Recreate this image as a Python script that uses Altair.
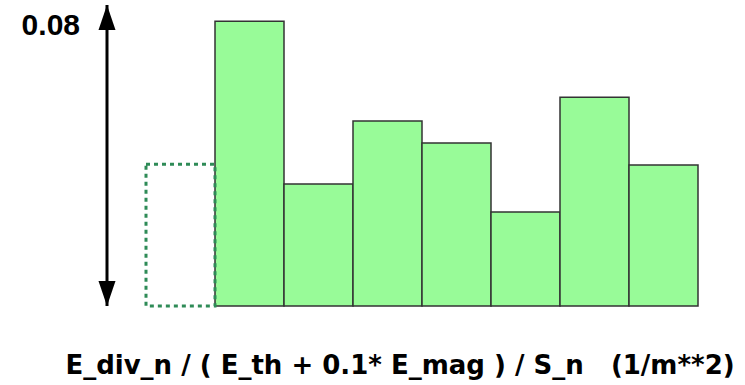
import altair as alt
import pandas as pd

# histogram bins (bin index edges) and heights
bin_start = [1, 2, 3, 4, 5, 6, 7]
bin_end = [2, 3, 4, 5, 6, 7, 8]
values = [0.0757, 0.0324, 0.0492, 0.0433, 0.0250, 0.0555, 0.0375]

# dashed reference bin
ref_start = [0]
ref_end = [1]
ref_value = [0.0377]

scale_max = 0.08
scale_label = "0.08"
x_title = "E_div_n / ( E_th + 0.1* E_mag ) / S_n\u00a0\u00a0 (1/m**2)"

bars = pd.DataFrame({"x": bin_start, "x2": bin_end, "v": values})
ref = pd.DataFrame({"x": ref_start, "x2": ref_end, "v": ref_value})
arrow = pd.DataFrame({"lo": [0.0], "hi": [scale_max]})
heads = pd.DataFrame({"y": [scale_max, 0.0], "dir": ["up", "down"]})
lab = pd.DataFrame({"t": [scale_label], "y": [scale_max]})
ttl = pd.DataFrame({"t": [x_title]})

xs = alt.Scale(domain=[-146 / 69, (745 - 146) / 69], range=[0, 745])
ys = alt.Scale(domain=[0, scale_max], range=[306, 5])

bar_layer = alt.Chart(bars).mark_rect(
    fill="#98FB98", stroke="#333333", strokeWidth=1.5
).encode(
    x=alt.X("x:Q", scale=xs, axis=None),
    x2="x2:Q",
    y=alt.Y("v:Q", scale=ys, axis=None),
    y2=alt.datum(0),
)

ref_layer = alt.Chart(ref).mark_rect(
    fill=None, stroke="#2E8B57", strokeWidth=3, strokeDash=[4, 4]
).encode(
    x=alt.X("x:Q", scale=xs, axis=None),
    x2="x2:Q",
    y=alt.Y("v:Q", scale=ys, axis=None),
    y2=alt.datum(0),
)

rule = alt.Chart(arrow).mark_rule(color="black", strokeWidth=3).encode(
    x=alt.value(107),
    y=alt.Y("lo:Q", scale=ys, axis=None),
    y2="hi:Q",
)

up = alt.Chart(heads[heads.dir == "up"]).mark_point(
    shape="M0,0L0.68,2L-0.68,2Z", filled=True, color="black", opacity=1, size=625
).encode(x=alt.value(107), y=alt.Y("y:Q", scale=ys, axis=None))

down = alt.Chart(heads[heads.dir == "down"]).mark_point(
    shape="M0,0L0.68,-2L-0.68,-2Z", filled=True, color="black", opacity=1, size=625
).encode(x=alt.value(107), y=alt.Y("y:Q", scale=ys, axis=None))

label = alt.Chart(lab).mark_text(
    font="Liberation Sans", fontWeight="bold", fontSize=30, align="right",
    baseline="alphabetic", color="black", dy=30
).encode(x=alt.value(80), y=alt.Y("y:Q", scale=ys, axis=None), text="t:N")

title = alt.Chart(ttl).mark_text(
    font="DejaVu Sans", fontWeight="bold", fontSize=26,
    align="center", baseline="alphabetic", color="black"
).encode(x=alt.value(400), y=alt.value(374), text="t:N")

chart = alt.layer(bar_layer, ref_layer, rule, up, down, label, title).properties(
    width=745, height=385, autosize=alt.AutoSizeParams(type="none"), padding=0
).configure_view(stroke=None)

chart.save("out.html", embed_options={"renderer": "svg", "actions": False})
